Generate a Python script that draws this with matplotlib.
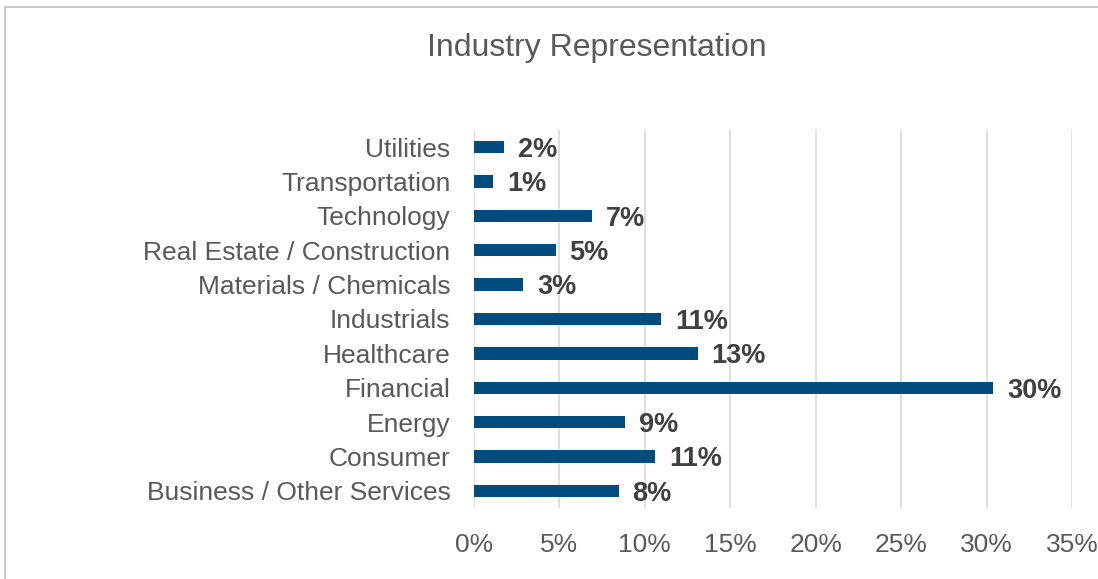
import matplotlib.pyplot as plt
from matplotlib.patches import Rectangle
from matplotlib.ticker import FuncFormatter

categories = ['Business / Other Services', 'Consumer', 'Energy', 'Financial', 'Healthcare',
              'Industrials', 'Materials / Chemicals', 'Real Estate / Construction',
              'Technology', 'Transportation', 'Utilities']
shares = [8.46, 10.6, 8.85, 30.4, 13.1, 10.95, 2.89, 4.78, 6.93, 1.11, 1.77]
xticks = [0, 5, 10, 15, 20, 25, 30, 35]

plt.rcParams['font.family'] = ['Liberation Sans', 'DejaVu Sans']

fig = plt.figure(figsize=(10.98, 5.79), dpi=100)
fig.patches.append(Rectangle((5 / 1098, -0.1), 1.2, 1 - 7 / 579 + 0.1, transform=fig.transFigure,
                             fill=False, edgecolor='#BFBFBF', linewidth=1.2))
ax = fig.add_axes([474 / 1098, 1 - 508 / 579, 598 / 1098, 378 / 579])

y = range(len(categories))
ax.barh(y, shares, height=0.36, color='#004C7F', zorder=3)
for yi, v in zip(y, shares):
    ax.annotate(f'{round(v)}%', (v, yi), xytext=(10, -2), textcoords='offset points',
                ha='left', va='center', fontsize=19.5, fontweight='bold', color='#404040')

ax.set_xlim(0, 35)
ax.set_ylim(-0.5, len(categories) - 0.5)
ax.set_xticks(xticks)
ax.xaxis.set_major_formatter(FuncFormatter(lambda v, p: f'{v:.0f}%'))
ax.set_yticks(list(y))
ax.set_yticklabels(categories)
ax.tick_params(axis='x', length=0, pad=18, labelsize=19, labelcolor='#595959')
ax.tick_params(axis='y', length=0, pad=17, labelsize=19, labelcolor='#595959')
ax.grid(axis='x', color='#D9D9D9', linewidth=1.2, zorder=0)
for s in ax.spines.values():
    s.set_visible(False)

fig.text(597 / 1098, 1 - 48 / 579, 'Industry Representation', ha='center', va='center',
         fontsize=23, color='#595959')

fig.savefig('out.png', dpi=100)
